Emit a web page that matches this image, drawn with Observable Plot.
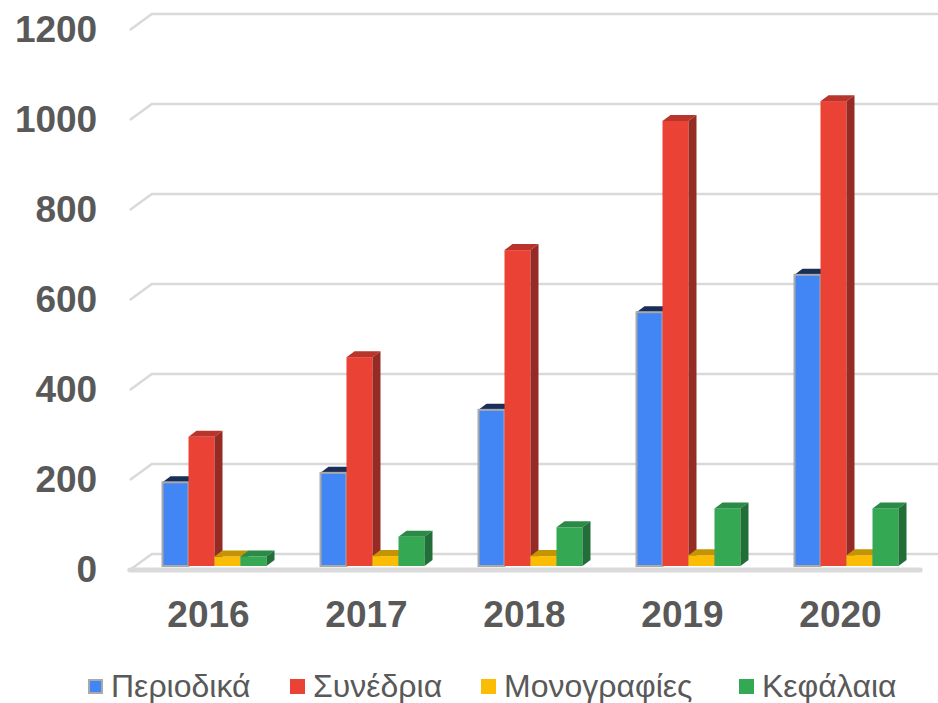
<!DOCTYPE html>
<html><head><meta charset="utf-8">
<script src="https://cdn.jsdelivr.net/npm/d3@7"></script>
<script src="https://cdn.jsdelivr.net/npm/@observablehq/plot@0.6"></script>
<style>
body{margin:0;background:#fff;font-family:"Liberation Sans",Arial,sans-serif;}
#legend{position:relative;width:938px;height:53px;}
.item{position:absolute;top:14px;height:44px;display:flex;align-items:center;font-size:32px;color:#595959;white-space:nowrap;}
.sw{width:15px;height:15px;margin-right:8px;box-sizing:border-box;}
</style></head><body>
<div id="chart"></div><div id="legend"></div>
<script>
const years = ["2016", "2017", "2018", "2019", "2020"];
const series = ["Περιοδικά", "Συνέδρια", "Μονογραφίες", "Κεφάλαια"];
const periodika = [186, 207, 347, 564, 647];
const synedria = [287, 464, 702, 989, 1033];
const monografies = [21, 22, 22, 24, 24];
const kefalaia = [21, 65, 86, 128, 128];
const yTicks = [0, 200, 400, 600, 800, 1000, 1200];

const valuesBySeries = [periodika, synedria, monografies, kefalaia];
const rows = years.flatMap((yr, i) => series.map((s, j) => ({year: yr, series: s, value: valuesBySeries[j][i]})));

const fills = ["#4285F4", "#EA4335", "#FBBC04", "#34A853"];
const topFills = ["#1b2e57", "#b9352b", "#c39403", "#2a8a46"];
const sideFills = ["#2c5cb0", "#952b24", "#a67c02", "#226e38"];
const DX = 8, DY = 6;
const FX_INNER = 0.337, FX_OUTER = 0.1685;

function bars3d(index, scales, values) {
  const g = d3.create("svg:g");
  const bw = scales.x.bandwidth();
  const order = Array.from(index).sort((a, b) => values.x[a] - values.x[b]);
  for (const i of order) {
    const x0 = values.x[i], x1 = x0 + bw;
    const yt = Math.min(values.y1[i], values.y2[i]), yb = Math.max(values.y1[i], values.y2[i]);
    const k = series.indexOf(rows[i].series);
    g.append("rect").attr("x", x0).attr("y", yt).attr("width", bw).attr("height", yb - yt)
      .attr("fill", fills[k]);
    g.append("polygon").attr("points", `${x0},${yt} ${x0 + DX},${yt - DY} ${x1 + DX},${yt - DY} ${x1},${yt}`)
      .attr("fill", topFills[k]);
    g.append("polygon").attr("points", `${x1},${yt} ${x1 + DX},${yt - DY} ${x1 + DX},${yb - DY} ${x1},${yb}`)
      .attr("fill", sideFills[k]);
    if (k === 0) {
      g.append("rect").attr("x", x0).attr("y", yt).attr("width", bw).attr("height", yb - yt)
        .attr("fill", "none").attr("stroke", "#a9a9a9").attr("stroke-width", 2);
    }
  }
  return g.node();
}

function decor(index, scales, values, dims) {
  const y = scales.y, fx = scales.fx;
  const bwf = fx.bandwidth();
  const step = bwf / (1 - FX_INNER);
  const left = fx(years[0]) - step * FX_OUTER;
  const right = fx(years[years.length - 1]) + bwf + step * FX_OUTER;
  const g = d3.create("svg:g").attr("fill", "none").attr("stroke", "#d9d9d9");
  const xf = left - 5.5, xb = xf + 22, xr = dims.width;
  for (const v of yTicks) {
    const yv = y(v);
    g.append("polyline").attr("points", `${xf},${yv + 4} ${xb},${yv - 12} ${xr},${yv - 12}`)
      .attr("stroke-width", 2.5);
  }
  g.append("line").attr("x1", xf).attr("x2", right - 5.5)
    .attr("y1", y(0) + 4).attr("y2", y(0) + 4)
    .attr("stroke-width", 5).attr("stroke-linecap", "round").attr("stroke", "#dadada");
  return g.node();
}

const chart = Plot.plot({
  width: 938, height: 650,
  marginLeft: 133.5, marginRight: 10.5, marginTop: 26, marginBottom: 84,
  style: {fontFamily: "Liberation Sans, Arial, sans-serif", fontSize: "37px", fontWeight: "bold", background: "#fff"},
  fx: {domain: years, paddingInner: FX_INNER, paddingOuter: FX_OUTER, label: null},
  x: {domain: series, padding: 0, axis: null},
  y: {domain: [0, 1200], axis: null},
  color: {domain: series, range: fills},
  marks: [
    Plot.frame({facet: "super", stroke: "none", render: decor}),
    Plot.barY(rows, {fx: "year", x: "series", y: "value", fill: "series", render: bars3d}),
    Plot.axisY(yTicks, {tickSize: 0, tickPadding: 65.3, dy: 4, tickFormat: d => String(d), fontSize: 37, fontWeight: "bold", color: "#595959", label: null}),
    Plot.axisFx({anchor: "bottom", tickSize: 0, tickPadding: 34, dx: -6.5, fontSize: 37, fontWeight: "bold", color: "#595959", label: null})
  ]
});
document.getElementById("chart").appendChild(chart);

const legendLefts = [88, 290, 481, 739];
const legend = document.getElementById("legend");
series.forEach((s, k) => {
  const it = document.createElement("div");
  it.className = "item";
  it.style.left = legendLefts[k] + "px";
  const sw = document.createElement("span");
  sw.className = "sw";
  sw.style.background = fills[k];
  if (k === 0) sw.style.border = "2px solid #a9a9a9";
  const t = document.createElement("span");
  t.textContent = s;
  it.appendChild(sw); it.appendChild(t);
  legend.appendChild(it);
});
</script>
</body></html>
